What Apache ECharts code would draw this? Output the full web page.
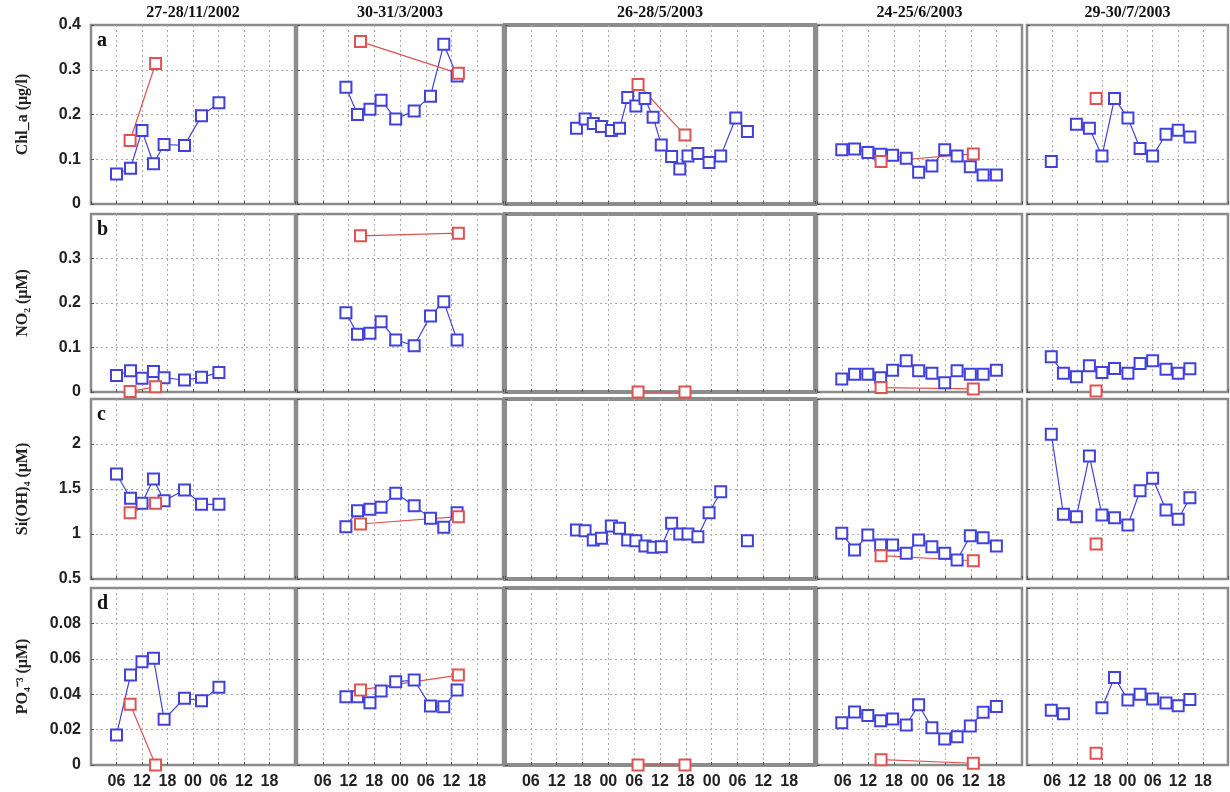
<!DOCTYPE html>
<html>
<head>
<meta charset="utf-8">
<script src="https://cdn.jsdelivr.net/npm/echarts@6/dist/echarts.min.js"></script>
<style>
  html, body { margin: 0; padding: 0; background: #fff; }
  #chart { width: 1230px; height: 792px; }
</style>
</head>
<body>
<div id="chart"></div>
<script>
// Sampling campaigns (one column each)
const campaigns = ['27-28/11/2002', '30-31/3/2003', '26-28/5/2003', '24-25/6/2003', '29-30/7/2003'];
// length of each campaign window in hours (x axis starts at 00 of day one)
const campaignSpan = [48, 48, 72, 48, 48];

// Parameters (one row each)
const panelLetters = ['a', 'b', 'c', 'd'];
const paramNames = ['Chl_a (μg/l)', 'NO₂ (μM)', 'Si(OH)₄ (μM)', 'PO₄⁻³ (μM)'];
const paramMin = [0, 0, 0.5, 0];
const paramMax = [0.4, 0.4, 2.5, 0.1];
const paramStep = [0.1, 0.1, 0.5, 0.02];

// Station 1 (blue): sampling hours per campaign
const st1Hours = [
  [6, 9.3, 12, 14.7, 17.2, 22, 26, 30.1],
  [11.4, 14.1, 17, 19.6, 23, 27.3, 31.1, 34.2, 37.3],
  [16.6, 18.6, 20.5, 22.4, 24.7, 26.6, 28.5, 30.4, 32.5, 34.4, 36.3, 38.7, 40.6, 42.5, 44.8, 47.4, 50.1, 53.6, 56.3],
  [5.8, 8.8, 11.9, 14.9, 17.7, 20.9, 23.8, 26.9, 29.9, 32.8, 35.9, 38.9, 42],
  [5.8, 8.7, 11.8, 14.9, 17.9, 20.9, 24.1, 27, 30, 33.2, 36.1, 38.9]
];
// Station 1 values (null = not measured)
const st1Chl = [
  [0.067, 0.08, 0.164, 0.09, 0.133, 0.131, 0.197, 0.226],
  [0.261, 0.2, 0.212, 0.232, 0.19, 0.208, 0.241, 0.357, 0.286],
  [0.169, 0.19, 0.18, 0.173, 0.164, 0.169, 0.238, 0.219, 0.236, 0.194, 0.132, 0.106, 0.078, 0.107, 0.113, 0.093, 0.107, 0.192, 0.162],
  [0.121, 0.123, 0.115, 0.111, 0.109, 0.102, 0.071, 0.085, 0.121, 0.107, 0.083, 0.065, 0.065],
  [0.095, null, 0.178, 0.169, 0.107, 0.236, 0.192, 0.124, 0.107, 0.156, 0.165, 0.15]
];
const st1NO2 = [
  [0.037, 0.048, 0.031, 0.046, 0.032, 0.027, 0.033, 0.044],
  [0.178, 0.13, 0.132, 0.158, 0.117, 0.104, 0.171, 0.203, 0.117],
  [],
  [0.029, 0.04, 0.04, 0.032, 0.049, 0.07, 0.048, 0.042, 0.021, 0.048, 0.04, 0.04, 0.049],
  [0.079, 0.042, 0.034, 0.059, 0.044, 0.053, 0.042, 0.064, 0.07, 0.051, 0.042, 0.052]
];
const st1Si = [
  [1.667, 1.397, 1.341, 1.611, 1.37, 1.489, 1.33, 1.33],
  [1.081, 1.259, 1.274, 1.297, 1.452, 1.315, 1.174, 1.074, 1.237],
  [1.044, 1.037, 0.933, 0.952, 1.089, 1.063, 0.933, 0.926, 0.867, 0.852, 0.859, 1.119, 1.0, 1.0, 0.97, 1.237, 1.47, null, 0.926],
  [1.008, 0.822, 0.989, 0.878, 0.878, 0.786, 0.933, 0.859, 0.786, 0.711, 0.981, 0.959, 0.867],
  [2.108, 1.219, 1.193, 1.867, 1.211, 1.181, 1.1, 1.481, 1.619, 1.267, 1.163, 1.403]
];
const st1PO4 = [
  [0.017, 0.0508, 0.0584, 0.0603, 0.0258, 0.0377, 0.0363, 0.0439],
  [0.0386, 0.0386, 0.0352, 0.0418, 0.047, 0.048, 0.0333, 0.0329, 0.0424],
  [],
  [0.0239, 0.03, 0.028, 0.025, 0.026, 0.0226, 0.034, 0.021, 0.0147, 0.016, 0.022, 0.0298, 0.033],
  [0.031, 0.029, null, null, 0.0324, 0.0495, 0.0367, 0.04, 0.0373, 0.035, 0.0335, 0.037]
];

// Station 2 (red): sampling hours per campaign
const st2Hours = [
  [9.2, 15.2],
  [14.8, 37.6],
  [30.9, 41.8],
  [15, 36.6],
  [16.5]
];
const st2Chl = [[0.142, 0.314], [0.363, 0.292], [0.267, 0.154], [0.095, 0.112], [0.236]];
const st2NO2 = [[0.001, 0.012], [0.351, 0.357], [0, 0], [0.01, 0.007], [0.002]];
const st2Si = [[1.237, 1.341], [1.111, 1.192], [], [0.759, 0.703], [0.889]];
const st2PO4 = [[0.0343, 0], [0.0424, 0.0508], [0, 0], [0.003, 0.001], [0.0066]];

const st1Rows = [st1Chl, st1NO2, st1Si, st1PO4];
const st2Rows = [st2Chl, st2NO2, st2Si, st2PO4];

// Panel layout (pixels)
const colLeft = [91, 297, 505, 817, 1027];
const colWidth = [204, 206, 310, 205, 201];
const colBorder = [2.5, 2.5, 4, 2.5, 2.5];
const rowTop = [25, 214, 399, 588];
const rowHeight = [179, 178, 180, 177];

const BLUE = '#4141dc';
const RED = '#e05252';

function pairs(hours, values) {
  const out = [];
  for (let i = 0; i < values.length; i++) {
    out.push([hours[i], values[i] == null ? '-' : values[i]]);
  }
  return out;
}

const gridLine = { show: true, showMinLine: false, showMaxLine: false,
  lineStyle: { color: '#a8a8a8', type: [2, 3], width: 1 } };

const grids = [], xAxes = [], yAxes = [], series = [], graphics = [];
let k = 0;
for (let r = 0; r < 4; r++) {
  for (let c = 0; c < 5; c++) {
    grids.push({
      left: colLeft[c], top: rowTop[r], width: colWidth[c], height: rowHeight[r],
      show: true, borderColor: '#8c8c8c', borderWidth: colBorder[c], backgroundColor: '#fff'
    });
    xAxes.push({
      type: 'value', gridIndex: k, min: 0, max: campaignSpan[c], interval: 6,
      axisLine: { show: false },
      axisTick: { show: true, inside: true, length: 3, lineStyle: { color: '#555' } },
      axisLabel: {
        show: r === 3, showMinLabel: false, showMaxLabel: false, margin: 9,
        fontFamily: 'Liberation Sans', fontWeight: 'bold', fontSize: 16, color: '#222',
        formatter: v => String(v % 24).padStart(2, '0')
      },
      splitLine: gridLine
    });
    yAxes.push({
      type: 'value', gridIndex: k, min: paramMin[r], max: paramMax[r], interval: paramStep[r],
      name: c === 0 ? paramNames[r] : '',
      nameLocation: 'middle', nameGap: 60, nameRotate: 90,
      nameTextStyle: { fontFamily: 'Liberation Serif', fontWeight: 'bold', fontSize: 16, color: '#222' },
      axisLine: { show: false },
      axisTick: { show: true, inside: true, length: 3, lineStyle: { color: '#555' } },
      axisLabel: {
        show: c === 0, showMaxLabel: r === 0, margin: 10,
        fontFamily: 'Liberation Sans', fontWeight: 'bold', fontSize: 16, color: '#222'
      },
      splitLine: gridLine
    });
    const common = {
      type: 'line', xAxisIndex: k, yAxisIndex: k, symbol: 'emptyRect',
      symbolSize: 11, clip: false, animation: false, silent: true, connectNulls: false
    };
    series.push(Object.assign({}, common, {
      name: 'Station 1',
      data: pairs(st1Hours[c], st1Rows[r][c]),
      lineStyle: { color: BLUE, width: 1.2 },
      itemStyle: { color: BLUE, borderWidth: 1.3 }
    }));
    series.push(Object.assign({}, common, {
      name: 'Station 2',
      data: pairs(st2Hours[c], st2Rows[r][c]),
      lineStyle: { color: RED, width: 1.2 },
      itemStyle: { color: RED, borderWidth: 1.3 }
    }));
    k++;
  }
  graphics.push({
    type: 'text', left: 97, top: rowTop[r] + 6,
    style: { text: panelLetters[r], font: 'bold 20px "Liberation Serif"', fill: '#111' }
  });
}
campaigns.forEach((t, c) => {
  graphics.push({
    type: 'text', x: colLeft[c] + colWidth[c] / 2, y: 13,
    style: {
      text: t, font: 'bold 16px "Liberation Serif"', fill: '#111',
      align: 'center', verticalAlign: 'middle'
    }
  });
});

const chart = echarts.init(document.getElementById('chart'), null, { renderer: 'canvas' });
chart.setOption({
  animation: false,
  backgroundColor: '#fff',
  grid: grids,
  xAxis: xAxes,
  yAxis: yAxes,
  series: series,
  graphic: graphics
});
</script>
</body>
</html>
